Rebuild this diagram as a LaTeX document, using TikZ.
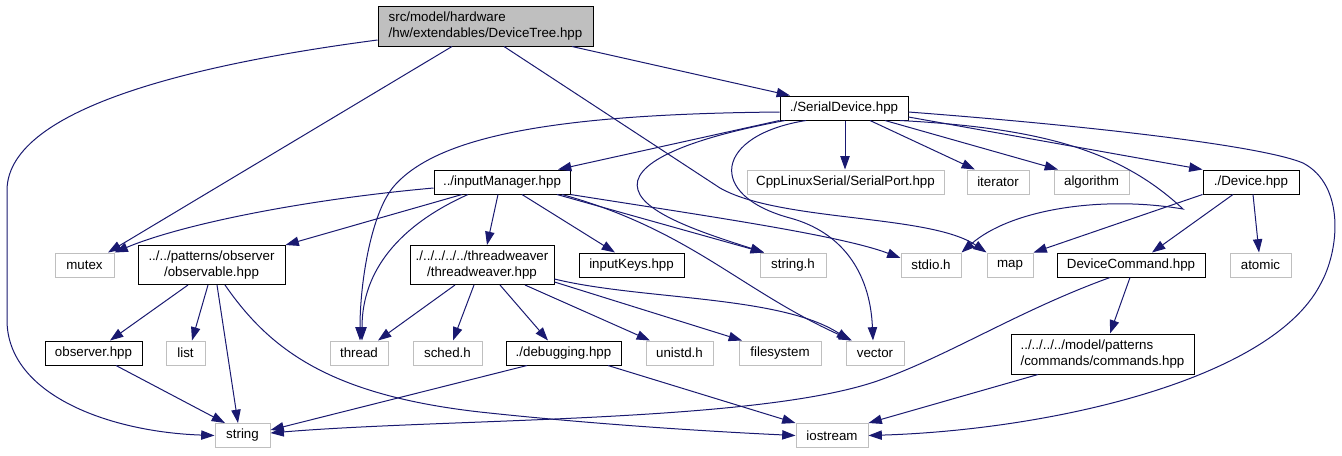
\documentclass[tikz,border=0pt]{standalone}
\usepackage{fontspec}
\setmainfont{Liberation Sans}
\usetikzlibrary{arrows.meta}
\definecolor{edgeblue}{RGB}{25,25,112}
\definecolor{extgray}{RGB}{191,191,191}

\tikzset{
  boxsize/.style 2 args={minimum width=#1*0.75pt, minimum height=#2*0.75pt},
  filebox/.style={draw=black, line width=0.75pt, inner sep=0pt, font=\fontsize{10}{11.5}\selectfont},
  intnode/.style={filebox},
  extnode/.style={filebox, draw=extgray},
  rootnode/.style={filebox, fill=extgray},
  dep/.style={draw=edgeblue, line width=0.75pt, -{Triangle[length=10pt,width=7pt]}},
}

\begin{document}
\begin{tikzpicture}[x=0.75pt,y=0.75pt,yscale=-1,xscale=1]
%set diagram left start at 0, and has height of 455
\useasboundingbox (0,0) rectangle (1342,455);

% Text Node
\node[rootnode, boxsize={215}{40}, align=left] (root) at (485.5,26) {src/model/hardware\\/hw/extendables/DeviceTree.hpp};
% Text Node
\node[intnode, boxsize={128}{24}] (serial) at (844,108) {./SerialDevice.hpp};
% Text Node
\node[intnode, boxsize={136}{24}] (inputmgr) at (502,182) {../inputManager.hpp};
\node[extnode, boxsize={197}{24}] (cppserial) at (845.5,182) {CppLinuxSerial/SerialPort.hpp};
\node[extnode, boxsize={62}{24}] (iterator) at (998,182) {iterator};
\node[extnode, boxsize={75}{24}] (algorithm) at (1091.5,182) {algorithm};
\node[intnode, boxsize={96}{24}] (device) at (1251,182) {./Device.hpp};
% Text Node
\node[extnode, boxsize={59}{24}] (mutex) at (84.5,265) {mutex};
\node[intnode, boxsize={147}{39}, align=center] (observable) at (211.5,265) {../../patterns/observer\\/observable.hpp};
\node[intnode, boxsize={144}{39}, align=center] (threadweaver) at (482,265) {./../../../../threadweaver\\/threadweaver.hpp};
\node[intnode, boxsize={105}{24}] (inputkeys) at (631.5,265) {inputKeys.hpp};
\node[extnode, boxsize={66}{24}] (stringh) at (793,265) {string.h};
\node[extnode, boxsize={60}{24}] (stdio) at (931,265) {stdio.h};
\node[extnode, boxsize={46}{24}] (map) at (1010,265) {map};
\node[intnode, boxsize={148}{24}] (devicecmd) at (1131,265) {DeviceCommand.hpp};
\node[extnode, boxsize={61}{24}] (atomic) at (1260.5,265) {atomic};
% Text Node
\node[intnode, boxsize={97}{24}] (observer) at (93.5,353) {observer.hpp};
\node[extnode, boxsize={39}{24}] (list) at (185.5,353) {list};
\node[extnode, boxsize={58}{24}] (thread) at (359,353) {thread};
\node[extnode, boxsize={69}{24}] (sched) at (447.5,353) {sched.h};
\node[intnode, boxsize={115}{24}] (debugging) at (563.5,353) {./debugging.hpp};
\node[extnode, boxsize={67}{24}] (unistd) at (679.5,353) {unistd.h};
\node[extnode, boxsize={82}{24}] (filesystem) at (780,353) {filesystem};
\node[extnode, boxsize={58}{24}] (vector) at (875,353) {vector};
\node[intnode, boxsize={183}{40}, align=left] (commands) at (1102.5,354) {../../../../model/patterns\\/commands/commands.hpp};
% Text Node
\node[extnode, boxsize={55}{24}] (string) at (242.5,435.5) {string};
\node[extnode, boxsize={72}{24}] (iostream) at (832,435.5) {iostream};

%Curve Lines (DeviceTree.hpp)
\draw[dep] (root.west |- 0,40) .. controls (210,62) and (8,105) .. (7,190) -- (7,320) .. controls (7,395) and (110,432) .. (string.west);
\draw[dep] (root.south -| 452,0) -- (mutex.north -| 108,0);
\draw[dep] (root.south -| 504,0) -- (720,188) .. controls (780,222) and (930,214) .. (map.north west);
\draw[dep] (root.south -| 572,0) -- (serial.north -| 790,0);

%Curve Lines (SerialDevice.hpp)
\draw[dep] (serial.south west) -- (inputmgr.north -| 558,0);
\draw[dep] (serial.west |- 0,112) .. controls (560,114) and (440,135) .. (395,185) .. controls (372,210) and (360,280) .. (thread.north -| 360,0);
\draw[dep] (serial.south -| 785,0) .. controls (680,140) and (630,165) .. (638,190) .. controls (645,215) and (710,235) .. (stringh.north -| 764,0);
\draw[dep] (serial.south -| 806,0) .. controls (715,135) and (705,195) .. (790,218) .. controls (840,231.5) and (870,270) .. (vector.north -| 873,0);
\draw[dep] (serial.south -| 845,0) -- (cppserial.north -| 845,0);
\draw[dep] (serial.south -| 870,0) -- (iterator.north -| 975,0);
\draw[dep] (serial.south -| 885,0) -- (algorithm.north -| 1058,0);
\draw[dep] (serial.east |- 0,117) -- (device.north west);
\draw[dep] (serial.south -| 900,0) .. controls (1040,128) and (1120,150) .. (1183,209) .. controls (1100,195) and (1010,210) .. (stdio.north east);
\draw[dep] (serial.east |- 0,112) .. controls (1080,125) and (1260,145) .. (1303,163) .. controls (1345,185) and (1340,250) .. (1320,285) .. controls (1270,380) and (1050,430) .. (iostream.east);

%Curve Lines (inputManager.hpp)
\draw[dep] (inputmgr.west |- 0,188) .. controls (300,200) and (180,225) .. (mutex.north east);
\draw[dep] (inputmgr.south -| 462,0) -- (observable.north east);
\draw[dep] (inputmgr.south -| 468,0) .. controls (400,225) and (362,270) .. (thread.north -| 362,0);
\draw[dep] (inputmgr.south -| 498,0) -- (threadweaver.north -| 487,0);
\draw[dep] (inputmgr.south -| 522,0) -- (inputkeys.north -| 615,0);
\draw[dep] (inputmgr.south -| 557,0) -- (stringh.north -| 764,0);
\draw[dep] (inputmgr.south east) .. controls (700,215) and (840,235) .. (stdio.west |- 0,258);
\draw[dep] (inputmgr.south -| 562,0) .. controls (690,230) and (740,290) .. (vector.north -| 852,0);

%Straight Lines (threadweaver.hpp)
\draw[dep] (threadweaver.south -| 455,0) -- (thread.north -| 378,0);
\draw[dep] (threadweaver.south -| 474,0) -- (sched.north -| 453,0);
\draw[dep] (threadweaver.south -| 500,0) -- (debugging.north -| 548,0);
\draw[dep] (threadweaver.south -| 525,0) -- (unistd.north -| 650,0);
\draw[dep] (threadweaver.east |- 0,282) -- (filesystem.north -| 742,0);
\draw[dep] (threadweaver.east |- 0,279) .. controls (640,300) and (780,295) .. (vector.north -| 850,0);

%Straight Lines (observable.hpp, observer.hpp, debugging.hpp)
\draw[dep] (observable.south -| 188,0) -- (observer.north -| 110,0);
\draw[dep] (observable.south -| 208,0) -- (list.north -| 192,0);
\draw[dep] (observable.south -| 217,0) -- (string.north -| 238,0);
\draw[dep] (observable.south -| 225,0) .. controls (270,350) and (330,395) .. (480,412) .. controls (600,425) and (720,432) .. (iostream.west);
\draw[dep] (observer.south -| 116,0) -- (string.north -| 225,0);
\draw[dep] (debugging.south -| 527,0) -- (string.east |- 0,430);
\draw[dep] (debugging.south -| 608,0) -- (iostream.north west);

%Straight Lines (Device.hpp, DeviceCommand.hpp, commands.hpp)
\draw[dep] (device.south west) -- (map.north east);
\draw[dep] (device.south -| 1233,0) -- (devicecmd.north -| 1152,0);
\draw[dep] (device.south -| 1253,0) -- (atomic.north -| 1259,0);
\draw[dep] (devicecmd.south -| 1110,0) .. controls (1020,310) and (950,355) .. (880,380) .. controls (760,423) and (450,418) .. (string.east |- 0,433);
\draw[dep] (devicecmd.south -| 1130,0) -- (commands.north -| 1110,0);
\draw[dep] (commands.south -| 1038,0) -- (iostream.north east);

\end{tikzpicture}
\end{document}
